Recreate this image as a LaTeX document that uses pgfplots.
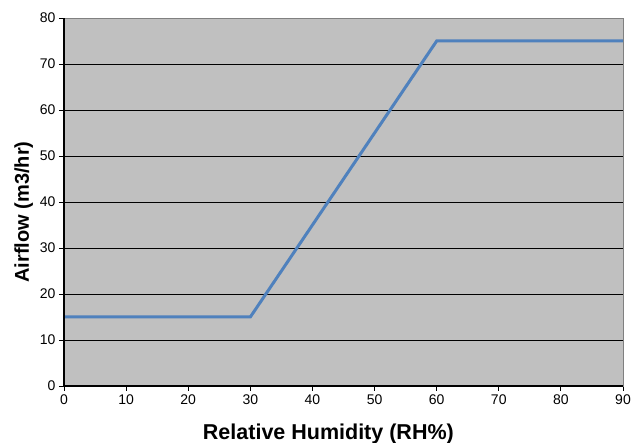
\documentclass[border=0pt]{standalone}
\usepackage{pgfplots}
\pgfplotsset{compat=1.18}
\usepackage{fontspec}
\setmainfont{Liberation Sans}
\definecolor{plotbg}{HTML}{C0C0C0}
\definecolor{xlline}{HTML}{4F81BD}
\begin{document}
\begin{tikzpicture}[x=1pt,y=1pt]
\useasboundingbox (-64,-57) rectangle (573,386);
\begin{axis}[
    at={(0,0)}, anchor=south west,
    scale only axis,
    width=559pt, height=368pt,
    xmin=0, xmax=90, ymin=0, ymax=80,
    xtick={0,10,...,90}, ytick={0,10,...,80},
    axis background/.style={fill=plotbg},
    axis line style={draw=black!50},
    ymajorgrids=true,
    grid style={black, line width=0.9pt},
    tick align=outside,
    major tick length=5pt,
    tick style={black, line width=0.8pt},
    xtick pos=bottom, ytick pos=left,
    tick label style={font=\fontsize{14}{16}\selectfont},
    /pgf/number format/assume math mode=true,
    xlabel={\textbf{Relative Humidity (RH\%)}},
    ylabel={\textbf{Airflow (m3/hr)}},
    xlabel style={font=\fontsize{21.5}{24}\selectfont, at={(ticklabel cs:0.473)}, yshift=-13pt},
    ylabel style={font=\fontsize{20}{24}\selectfont, at={(ticklabel cs:0.473)}, yshift=0pt},
    clip=false,
]
\addplot[xlline, line width=3pt] coordinates {(0,15) (30,15) (60,75) (90,75)};
\draw[black, line width=2pt] (axis cs:0,0) -- (axis cs:0,80);
\draw[black, line width=1.2pt] (axis cs:0,0) -- (axis cs:90,0);
\end{axis}
\end{tikzpicture}
\end{document}
